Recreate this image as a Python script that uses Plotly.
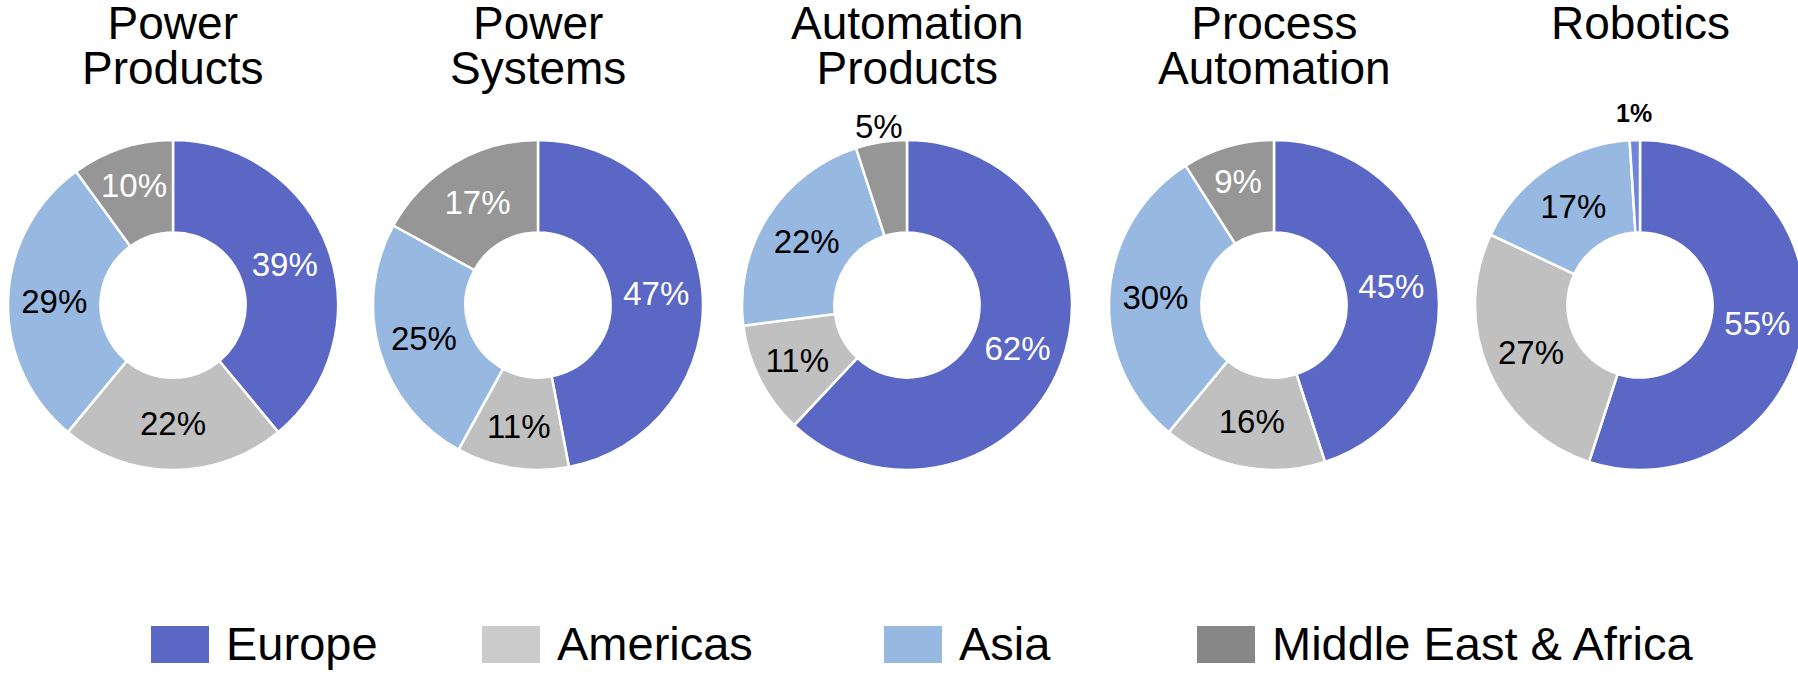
import math
import plotly.graph_objects as go

# ---- data ----
segments = ["Power\nProducts", "Power\nSystems", "Automation\nProducts", "Process\nAutomation", "Robotics"]
regions = ["Europe", "Americas", "Asia", "Middle East & Africa"]
europe = [39, 47, 62, 45, 55]
americas = [22, 11, 11, 16, 27]
asia = [29, 25, 22, 30, 17]
mea = [10, 17, 5, 9, 1]

# ---- style ----
FONT = "Liberation Sans, Arial, Helvetica, sans-serif"
slice_colors = ["#5b67c5", "#c0c0c0", "#97b8e0", "#969696"]
legend_colors = ["#5b67c5", "#cbcbcb", "#97b8e0", "#878787"]
label_colors = ["white", "black", "black", "white"]
LABEL_SIZE = 33
TITLE_SIZE = 46
TITLE_LINE = 45              # px between title lines

OFF = 0                      # page offset of the figure (body margin removed)
W, H = 1806, 675             # figure size (right edge slightly beyond the window, as in the reference)
centers = [173, 538, 907, 1274, 1640]   # page px
R = 165
CY = 305
HOLE = 0.44

# slices whose labels sit outside the ring: (trace index, slice index) -> style
outside = {
    (2, 3): dict(size=33, bold=False, gap=16),
    (4, 3): dict(size=25, bold=True, gap=27),
}


def px(x):
    return min(1.0, max(0.0, (x - OFF) / W))


def py(y):
    return min(1.0, max(0.0, 1 - (y - OFF) / H))


fig = go.Figure()
annotations = []
for i, seg in enumerate(segments):
    vals = [europe[i], americas[i], asia[i], mea[i]]
    cols = list(slice_colors)
    if i == 4:
        cols[3] = "#7086da"
    texts = [f"{v}%" for v in vals]
    cx = centers[i]
    total = sum(vals)
    cum = 0
    for k, v in enumerate(vals):
        if (i, k) in outside:
            st = outside[(i, k)]
            theta = 2 * math.pi * (cum + v / 2) / total
            rl = R + st["gap"]
            lx = cx + rl * math.sin(theta)
            ly = CY - rl * math.cos(theta)
            t = texts[k]
            annotations.append(dict(
                text=f"<b>{t}</b>" if st["bold"] else t,
                x=px(lx), y=py(ly), xref="paper", yref="paper",
                xanchor="center", yanchor="middle", showarrow=False,
                font=dict(family=FONT, size=st["size"], color="black"),
            ))
            texts[k] = ""
        cum += v
    fig.add_trace(go.Pie(
        labels=regions,
        values=vals,
        text=texts,
        textinfo="text",
        textposition="inside",
        insidetextorientation="horizontal",
        sort=False,
        direction="clockwise",
        rotation=0,
        hole=HOLE,
        marker=dict(colors=cols, line=dict(color="white", width=2.5)),
        textfont=dict(family=FONT, size=LABEL_SIZE, color=label_colors),
        domain=dict(x=[px(cx - R), px(cx + R)], y=[py(CY + R), py(CY - R)]),
        showlegend=False,
        name=seg.replace("\n", " "),
        hoverinfo="label+percent",
    ))

# titles: one annotation per panel; base font sets the line spacing, span sets glyph size
for i, seg in enumerate(segments):
    lines = seg.split("\n")
    html = "<br>".join(f"<span style='font-size:{TITLE_SIZE}px'>{ln}</span>" for ln in lines)
    mid = 23 + TITLE_LINE * (len(lines) - 1) / 2
    annotations.append(dict(
        text=html, x=px(centers[i]), y=py(mid),
        xref="paper", yref="paper", xanchor="center", yanchor="middle", align="center",
        showarrow=False, font=dict(family=FONT, size=TITLE_LINE / 1.3, color="black"),
    ))

# legend
sw_x = [151, 482, 884, 1197]
shapes = []
for k, reg in enumerate(regions):
    shapes.append(dict(type="rect", xref="paper", yref="paper",
                       x0=px(sw_x[k]), x1=px(sw_x[k] + 58),
                       y0=py(663), y1=py(626),
                       fillcolor=legend_colors[k], line=dict(width=0)))
    annotations.append(dict(
        text=reg, x=px(sw_x[k] + 73), y=py(643.5),
        xref="paper", yref="paper", xanchor="left", yanchor="middle",
        showarrow=False, font=dict(family=FONT, size=47, color="black"),
    ))

fig.update_layout(
    width=W, height=H,
    margin=dict(l=0, r=0, t=0, b=0),
    paper_bgcolor="white", plot_bgcolor="white",
    font=dict(family=FONT, color="black"),
    annotations=annotations, shapes=shapes,
    showlegend=False,
)
fig.write_html("out.html", config={"displayModeBar": False},
               post_script="document.body.style.margin='0';document.body.style.overflow='hidden';")
